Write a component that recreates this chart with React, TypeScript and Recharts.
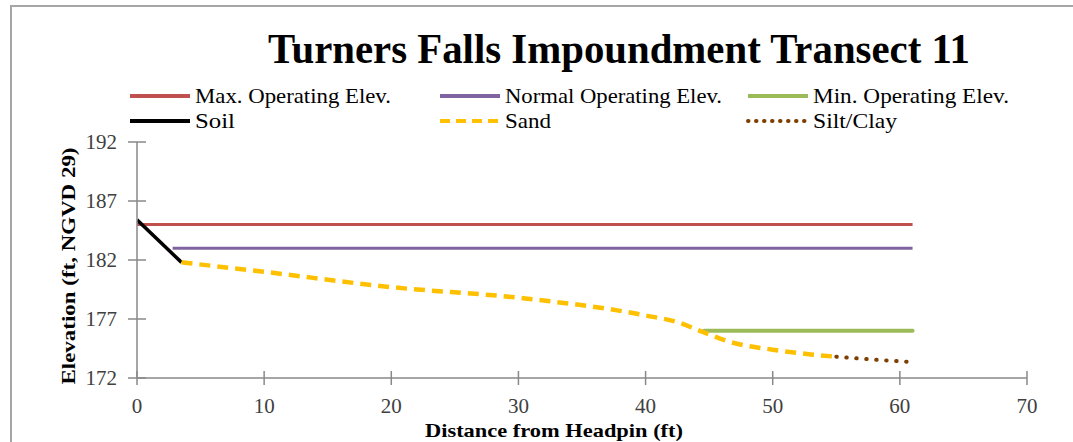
import React from "react";
import { LineChart, Line, XAxis, YAxis } from "recharts";

const W = 1073;
const H = 442;
const SERIF = "'Liberation Serif', 'Times New Roman', serif";

// tick labels
const xTicks = [0, 10, 20, 30, 40, 50, 60, 70];
const yTicks = [172, 177, 182, 187, 192];

// series
const maxElev = [
  { x: 0, y: 185 },
  { x: 61, y: 185 },
];
const normalElev = [
  { x: 2.8, y: 183 },
  { x: 61, y: 183 },
];
const minElev = [
  { x: 44.6, y: 176 },
  { x: 61, y: 176 },
];
const soil = [
  { x: 0, y: 185.4 },
  { x: 3.5, y: 181.8 },
];
const sand = [
  { x: 3.5, y: 181.8 },
  { x: 10, y: 181.0 },
  { x: 20, y: 179.7 },
  { x: 30, y: 178.8 },
  { x: 40, y: 177.3 },
  { x: 42.6, y: 176.7 },
  { x: 44.5, y: 175.9 },
  { x: 46.5, y: 175.1 },
  { x: 50, y: 174.4 },
  { x: 53, y: 174.0 },
  { x: 55, y: 173.8 },
];
const siltClay = [
  { x: 55, y: 173.8 },
  { x: 58, y: 173.55 },
  { x: 61, y: 173.35 },
];

const legendItems = [
  { name: "Max. Operating Elev.", color: "#C0504D", dash: undefined, x: 130, y: 96, w: 196 },
  { name: "Normal Operating Elev.", color: "#8064A2", dash: undefined, x: 440, y: 96, w: 217 },
  { name: "Min. Operating Elev.", color: "#9BBB59", dash: undefined, x: 748, y: 96, w: 196 },
  { name: "Soil", color: "#000000", dash: undefined, x: 130, y: 121, w: 40 },
  { name: "Sand", color: "#FFC000", dash: "10 6", x: 440, y: 121, w: 46 },
  { name: "Silt/Clay", color: "#7F3F00", dash: "0.5 7.5", x: 748, y: 121, w: 84 },
];

const AXIS = "#898989";

const YTick = (p: any) => {
  const ax = p.x + 20;
  return (
    <g>
      <line x1={ax - 9} x2={ax + 9} y1={p.y} y2={p.y} stroke={AXIS} strokeWidth={1.5} />
      <text x={p.x} y={p.y} dy="0.35em" textAnchor="end" fontFamily={SERIF} fontSize={21} fill="#404040">
        {p.payload.value}
      </text>
    </g>
  );
};

const XTick = (p: any) => {
  const ay = p.y - 21;
  return (
    <g>
      <line x1={p.x} x2={p.x} y1={ay - 7} y2={ay + 7} stroke={AXIS} strokeWidth={1.5} />
      <text x={p.x} y={p.y} dy="0.68em" textAnchor="middle" fontFamily={SERIF} fontSize={21} fill="#404040">
        {p.payload.value}
      </text>
    </g>
  );
};

export default function App() {
  return (
    <div style={{ position: "absolute", left: 0, top: 0, width: W, height: H, overflow: "hidden", background: "#fff" }}>
      <div
        style={{
          position: "absolute",
          left: 10,
          top: 5,
          width: W + 20,
          height: H + 20,
          border: "2px solid #a6a6a6",
          boxSizing: "border-box",
        }}
      />
      <div style={{ position: "absolute", left: 0, top: 0 }}>
        <LineChart width={W} height={H} margin={{ top: 142, right: 46, bottom: 0, left: 0 }}>
          <XAxis
            type="number"
            dataKey="x"
            domain={[0, 70]}
            ticks={xTicks}
            allowDataOverflow
            stroke={AXIS}
            strokeWidth={1.5}
            tickLine={false}
            tickSize={7}
            tickMargin={14}
            tick={<XTick />}
            height={64}
          />
          <YAxis
            type="number"
            dataKey="y"
            domain={[172, 192]}
            ticks={yTicks}
            allowDataOverflow
            stroke={AXIS}
            strokeWidth={1.5}
            tickLine={false}
            tickSize={9}
            tickMargin={11}
            tick={<YTick />}
            width={137}
          />
          <Line data={maxElev} dataKey="y" stroke="#C0504D" strokeWidth={3} dot={false} isAnimationActive={false} />
          <Line data={normalElev} dataKey="y" stroke="#8064A2" strokeWidth={3} dot={false} isAnimationActive={false} />
          <Line data={minElev} dataKey="y" stroke="#9BBB59" strokeWidth={4} strokeLinecap="round" dot={false} isAnimationActive={false} />
          <Line data={soil} dataKey="y" stroke="#000000" strokeWidth={3.5} dot={false} isAnimationActive={false} />
          <Line
            data={sand}
            dataKey="y"
            type="monotone"
            stroke="#FFC000"
            strokeWidth={4.5}
            strokeDasharray="11 7"
            dot={false}
            isAnimationActive={false}
          />
          <Line
            data={siltClay}
            dataKey="y"
            stroke="#7F3F00"
            strokeWidth={4}
            strokeLinecap="round"
            strokeDasharray="0.5 9.5"
            dot={false}
            isAnimationActive={false}
          />
        </LineChart>
      </div>
      <svg width={W} height={H} style={{ position: "absolute", left: 0, top: 0, pointerEvents: "none" }}>
        <text
          x={268}
          y={63}
          textLength={702}
          lengthAdjust="spacingAndGlyphs"
          fontFamily={SERIF}
          fontWeight="bold"
          fontSize={42}
          fill="#000"
        >
          Turners Falls Impoundment Transect 11
        </text>
        {legendItems.map((it) => (
          <g key={it.name}>
            <line
              x1={it.x}
              x2={it.x + 60}
              y1={it.y}
              y2={it.y}
              stroke={it.color}
              strokeWidth={4}
              strokeDasharray={it.dash}
              strokeLinecap={it.name === "Silt/Clay" ? "round" : "butt"}
            />
            <text
              x={it.x + 65}
              y={it.y + 7}
              textLength={it.w}
              lengthAdjust="spacingAndGlyphs"
              fontFamily={SERIF}
              fontSize={21}
              fill="#000"
            >
              {it.name}
            </text>
          </g>
        ))}
        <text
          x={554}
          y={430}
          dy="0.35em"
          textAnchor="middle"
          textLength={258}
          lengthAdjust="spacingAndGlyphs"
          fontFamily={SERIF}
          fontWeight="bold"
          fontSize={19}
          fill="#000"
        >
          Distance from Headpin (ft)
        </text>
        <text
          transform="translate(68,266) rotate(-90)"
          x={0}
          y={0}
          dy="0.35em"
          textAnchor="middle"
          textLength={237}
          lengthAdjust="spacingAndGlyphs"
          fontFamily={SERIF}
          fontWeight="bold"
          fontSize={19}
          fill="#000"
        >
          Elevation (ft, NGVD 29)
        </text>
      </svg>
    </div>
  );
}
